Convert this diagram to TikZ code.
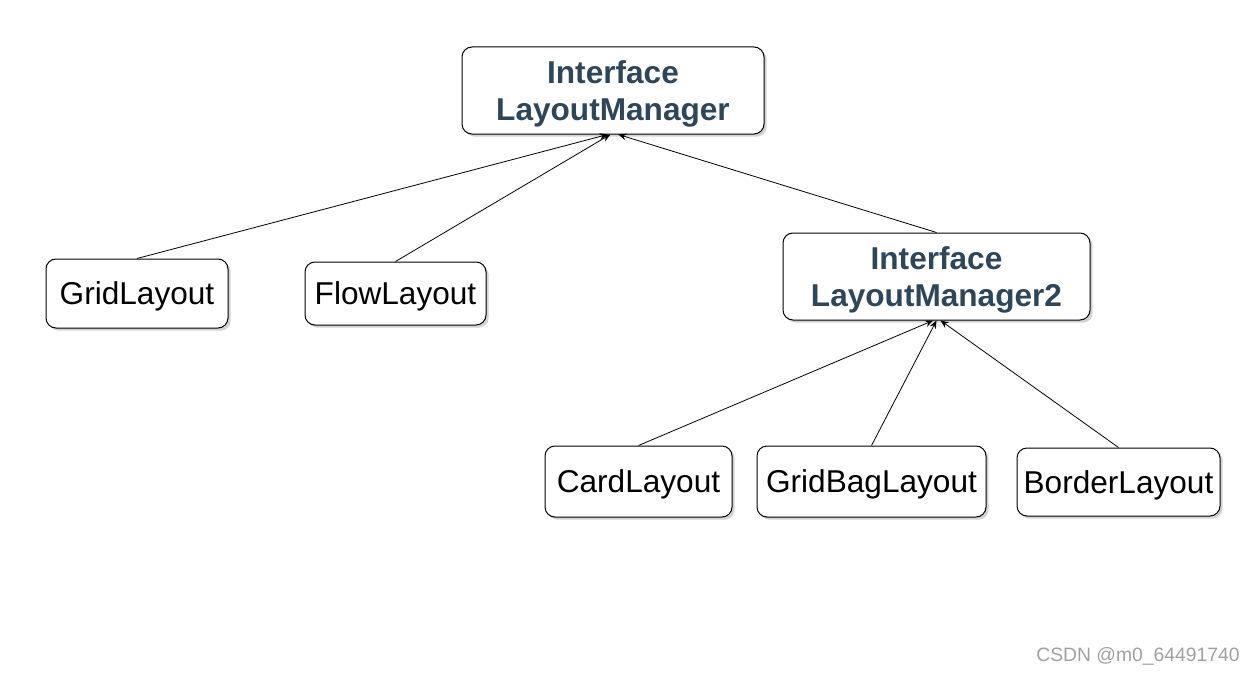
\documentclass[tikz,border=0pt]{standalone}
\usepackage{fontspec}
\setmainfont{Liberation Sans}
\usetikzlibrary{shadows,arrows.meta}
\definecolor{titlecol}{RGB}{45,70,90}
\definecolor{wmcol}{RGB}{160,160,160}
\tikzset{
  box/.style={draw=black, line width=0.75pt, rounded corners=7.5pt, fill=white,
    drop shadow={shadow xshift=2pt, shadow yshift=-2pt, opacity=0.35, fill=gray},
    font=\fontsize{23.7}{27.75}\selectfont, align=center, inner sep=0pt, text depth=0pt},
  ibox/.style={box, font=\fontsize{23.7}{27.75}\selectfont\bfseries, text=titlecol},
  inh/.style={draw=black, line width=0.6pt, -{Stealth[length=6pt,width=5pt]}},
}
\begin{document}
\begin{tikzpicture}[x=0.75pt,y=-0.75pt]
\useasboundingbox (0,0) rectangle (1257,674);
\node[ibox, minimum width=226.5pt, minimum height=65.25pt] (lm) at (613,90.5) {Interface\\LayoutManager};
\node[box, minimum width=136.5pt, minimum height=51.75pt] (grid) at (137,293.5) {GridLayout};
\node[box, minimum width=135.75pt, minimum height=47.25pt] (flow) at (395.5,293.5) {FlowLayout};
\node[ibox, minimum width=230.25pt, minimum height=65.25pt] (lm2) at (936.5,276.5) {Interface\\LayoutManager2};
\node[box, minimum width=140.25pt, minimum height=53.25pt] (card) at (638.5,481.5) {CardLayout};
\node[box, minimum width=171.75pt, minimum height=53.25pt] (gbag) at (871.5,481.5) {GridBagLayout};
\node[box, minimum width=152.25pt, minimum height=51pt] (border) at (1118.5,482) {BorderLayout};
\draw[inh] (grid.north) -- ([xshift=-4pt]lm.south);
\draw[inh] (flow.north) -- ([xshift=-2pt]lm.south);
\draw[inh] (lm2.north) -- ([xshift=4pt]lm.south);
\draw[inh] (card.north) -- ([xshift=-2.5pt]lm2.south);
\draw[inh] (gbag.north) -- (lm2.south);
\draw[inh] (border.north) -- ([xshift=3pt]lm2.south);
\node[text=wmcol, font=\fontsize{14.5}{16}\selectfont, anchor=east, inner sep=0pt] (wm) at (1240,656) {CSDN @m0\_64491740};
\end{tikzpicture}
\end{document}
